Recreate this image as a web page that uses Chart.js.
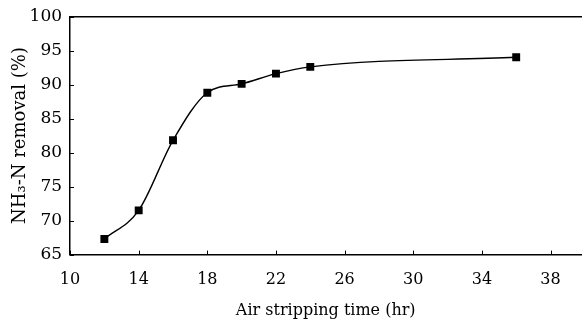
<!DOCTYPE html>
<html>
<head>
<meta charset="utf-8">
<script src="https://cdn.jsdelivr.net/npm/chart.js@4"></script>
<style>
  html, body { margin: 0; padding: 0; background: #fff; overflow: hidden; }
  #wrap { width: 582px; height: 323px; overflow: hidden; }
</style>
</head>
<body>
<!-- canvas a bit wider than the window: the plot frame runs off the right edge in the original -->
<div id="wrap"><canvas id="removalChart" width="587" height="323"></canvas></div>
<script>
// data
const stripTimes = [12, 14, 16, 18, 20, 22, 24, 36];
const removalPct = [67.3, 71.5, 81.8, 88.8, 90.1, 91.6, 92.6, 94.0];

const xTickVals = [10, 14, 18, 22, 26, 30, 34, 38];
const yTickVals = [65, 70, 75, 80, 85, 90, 95, 100];

const xTitle = "Air stripping time (hr)";
const yTitle = "NH\u2083-N removal (%)";

const serif = "'DejaVu Serif', 'Liberation Serif', serif";

// small tick marks pointing into the plot, like the original
const innerTicks = {
  id: "innerTicks",
  afterDatasetsDraw(chart) {
    const { ctx, chartArea, scales } = chart;
    ctx.save();
    ctx.strokeStyle = "#000";
    ctx.lineWidth = 1;
    ctx.beginPath();
    scales.x.ticks.forEach(t => {
      const px = Math.round(scales.x.getPixelForValue(t.value)) + 0.5;
      ctx.moveTo(px, chartArea.bottom);
      ctx.lineTo(px, chartArea.bottom - 4);
    });
    scales.y.ticks.forEach(t => {
      const py = Math.round(scales.y.getPixelForValue(t.value)) + 0.5;
      ctx.moveTo(chartArea.left, py);
      ctx.lineTo(chartArea.left + 4, py);
    });
    ctx.stroke();
    ctx.restore();
  }
};

const ctx = document.getElementById("removalChart");

new Chart(ctx, {
  type: "scatter",
  data: {
    datasets: [
      {
        data: stripTimes.map((t, i) => ({ x: t, y: removalPct[i] })),
        showLine: true,
        borderColor: "#000",
        borderWidth: 1.4,
        cubicInterpolationMode: "monotone",
        pointStyle: "rect",
        pointRadius: 5.6,
        pointBackgroundColor: "#000",
        pointBorderColor: "#000",
        pointBorderWidth: 0
      }
    ]
  },
  plugins: [innerTicks],
  options: {
    responsive: false,
    animation: false,
    layout: { padding: { top: 14, right: 0, left: 10, bottom: 3 } },
    plugins: {
      legend: { display: false },
      tooltip: { enabled: false }
    },
    scales: {
      x: {
        type: "linear",
        min: 10,
        max: 39.8,
        afterBuildTicks: s => { s.ticks = xTickVals.map(v => ({ value: v })); },
        border: { display: true, color: "#000", width: 1.5 },
        grid: { drawOnChartArea: false, drawTicks: false },
        ticks: {
          padding: 16,
          color: "#000",
          font: { family: serif, size: 16 },
          maxRotation: 0,
          autoSkip: false
        },
        title: {
          display: true,
          text: xTitle,
          color: "#000",
          font: { family: serif, size: 16 },
          padding: { top: -5, bottom: 0 }
        }
      },
      xTop: {
        type: "linear",
        position: "top",
        min: 10,
        max: 39.8,
        border: { display: true, color: "#000", width: 1.5 },
        grid: { display: false, drawTicks: false, tickLength: 0 },
        ticks: { display: false }
      },
      y: {
        min: 65,
        max: 100,
        afterBuildTicks: s => { s.ticks = yTickVals.map(v => ({ value: v })); },
        border: { display: true, color: "#000", width: 1.5 },
        grid: { drawOnChartArea: false, drawTicks: false },
        ticks: {
          padding: 8,
          color: "#000",
          font: { family: serif, size: 17, lineHeight: 1 }
        },
        title: {
          display: true,
          text: yTitle,
          color: "#000",
          font: { family: serif, size: 18 },
          padding: { top: 0, bottom: -10 }
        }
      }
    }
  }
});
</script>
</body>
</html>
